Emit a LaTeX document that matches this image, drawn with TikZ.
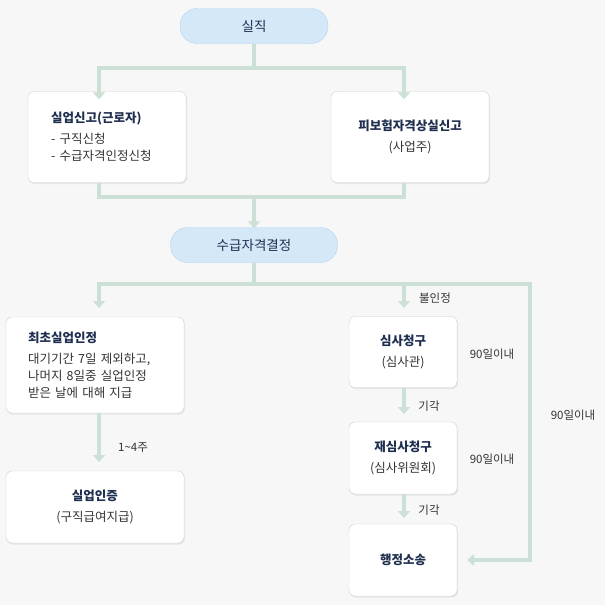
\documentclass[tikz,border=0pt]{standalone}
\usepackage{fontspec}
\setmainfont{Noto Sans CJK KR}
\usetikzlibrary{positioning,arrows.meta,shadows}
\definecolor{bgc}{HTML}{F7F7F7}
\definecolor{linec}{HTML}{CCE0D6}
\definecolor{pillc}{HTML}{D5E8F8}
\definecolor{pillb}{HTML}{B3D2EE}
\definecolor{boxb}{HTML}{D0D0D0}
\definecolor{txtc}{HTML}{333333}
\definecolor{headc}{HTML}{1F2F4F}
\begin{document}
\begin{tikzpicture}[x=1pt,y=-1pt,
    pill/.style = {rounded corners=17pt, fill=pillc, draw=pillb,
                minimum height=35pt, font=\fontsize{13.5}{15}\selectfont, text=headc},
    card/.style = {rounded corners=6pt, fill=white, draw=boxb,
                drop shadow={opacity=0.15,shadow xshift=1pt,shadow yshift=-1.5pt},
                align=center, text=txtc, font=\fontsize{12.5}{21}\selectfont},
    flow/.style = {linec, line width=3.5pt},
    tip/.style = {linec, line width=3.5pt, -{Triangle[width=12pt,length=7pt]}},
    note/.style = {text=txtc, font=\fontsize{11.5}{13}\selectfont}
                    ]
    \fill[bgc] (0,0) rectangle (605,605);
    \useasboundingbox (0,0) rectangle (605,605);
    % nodes
    \node[pill, minimum width=148pt] (loss) at (254,26) {실직};
    \node[card, minimum width=158pt, minimum height=91pt, text width=112pt, align=left] (report) at (107,137)
        {\textbf{\color{headc}실업신고(근로자)}\\- 구직신청\\[-4pt]- 수급자격인정신청};
    \node[card, minimum width=158pt, minimum height=91pt] (insured) at (410,137)
        {\textbf{\color{headc}피보험자격상실신고}\\(사업주)};
    \node[pill, minimum width=167pt] (decide) at (254,245) {수급자격결정};
    \node[card, minimum width=178pt, minimum height=96pt, text width=134pt, align=left] (first) at (95,365)
        {\textbf{\color{headc}최초실업인정}\\대기기간 7일 제외하고,\\[-4pt]나머지 8일중 실업인정\\[-4pt]받은 날에 대해 지급};
    \node[card, minimum width=178pt, minimum height=72pt] (pay) at (95,507)
        {\textbf{\color{headc}실업인증}\\(구직급여지급)};
    \node[card, minimum width=108pt, minimum height=71pt] (review) at (403,352)
        {\textbf{\color{headc}심사청구}\\(심사관)};
    \node[card, minimum width=108pt, minimum height=72pt] (rereview) at (403,458)
        {\textbf{\color{headc}재심사청구}\\(심사위원회)};
    \node[card, minimum width=108pt, minimum height=72pt] (suit) at (403,560)
        {\textbf{\color{headc}행정소송}};
    % connectors
    \coordinate (j1) at (254,68);
    \coordinate (j2) at (254,197);
    \coordinate (j3) at (254,284);
    \draw[flow] (loss.south) -- (j1);
    \draw[tip] (j1) -| ([yshift=-8pt]report.north -| 99,0);
    \draw[tip] (j1) -| ([yshift=-8pt]insured.north -| 404,0);
    \draw[flow] (report.south -| 99,0) |- (j2) -| (insured.south -| 404,0);
    \draw[tip] (j2) -- ([yshift=-1pt]decide.north);
    \draw[flow] (decide.south) -- (j3);
    \draw[tip] (j3) -| (99,308);
    \draw[tip] (j3) -| (404,308);
    \draw[tip] (j3) -- (530,284) |- ([xshift=10pt]suit.east);
    \draw[tip] (review.south -| 404,0) -- (404,414);
    \draw[tip] (rereview.south -| 404,0) -- (404,518);
    \draw[tip] (first.south -| 99,0) -- (99,462);
    % labels
    \node[note] (l1) at (435,298) {불인정};
    \node[note] (l2) at (573,415) {90일이내};
    \node[note] (l3) at (492,354) {90일이내};
    \node[note] (l4) at (492,459) {90일이내};
    \node[note] (l5) at (429,406) {기각};
    \node[note] (l6) at (429,510) {기각};
    \node[note] (l7) at (133,448) {1\textasciitilde4주};
\end{tikzpicture}
\end{document}
